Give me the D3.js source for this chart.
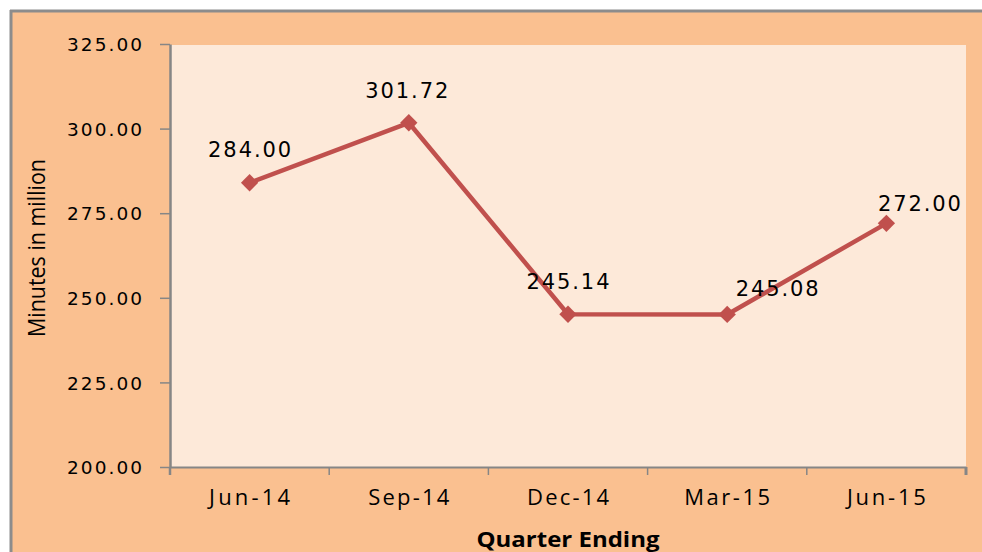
<!DOCTYPE html>
<html>
<head>
<meta charset="utf-8">
<script src="https://cdn.jsdelivr.net/npm/d3@7"></script>
<style>
  html, body { margin: 0; padding: 0; background: #ffffff; }
  svg { display: block; }
</style>
</head>
<body>
<svg id="chart" width="982" height="552"></svg>
<script>
// ---- data ----
const categories = ["Jun-14", "Sep-14", "Dec-14", "Mar-15", "Jun-15"];
const values = [284.00, 301.72, 245.14, 245.08, 272.00];
const valueLabels = ["284.00", "301.72", "245.14", "245.08", "272.00"];
const yTicks = [200, 225, 250, 275, 300, 325];
const yTitle = "Minutes in million";
const xTitle = "Quarter Ending";

// ---- layout / style ----
const W = 982, H = 552;
const plot = { left: 170, right: 966, top: 44, bottom: 467 };
// label offsets (dx, dy relative to point) to match reference placement
const labelOffsets = [[0, -26], [-2, -25], [0, -25], [50, -18], [33, -12]];
const xLabelWidths = [81, 81, 82, 86, 79];

const svg = d3.select("#chart");

// outer chart area
svg.append("rect").attr("x", 10).attr("y", 10).attr("width", W).attr("height", H)
  .attr("fill", "#FAC090");
svg.append("line").attr("x1", 10).attr("x2", W).attr("y1", 11).attr("y2", 11)
  .attr("stroke", "#8c8c8c").attr("stroke-width", 3);
svg.append("line").attr("x1", 11).attr("x2", 11).attr("y1", 10).attr("y2", H)
  .attr("stroke", "#8c8c8c").attr("stroke-width", 3);

// plot area
svg.append("rect").attr("x", plot.left).attr("y", plot.top + 1)
  .attr("width", plot.right - plot.left).attr("height", plot.bottom - plot.top - 1)
  .attr("fill", "#FDE9D9");

const x = d3.scaleBand().domain(categories).range([plot.left, plot.right]).paddingInner(0).paddingOuter(0);
const y = d3.scaleLinear().domain([200, 325]).range([plot.bottom, plot.top]);
const cx = d => x(d) + x.bandwidth() / 2;

// y axis
const yAxis = svg.append("g").attr("transform", `translate(${plot.left},0)`)
  .call(d3.axisLeft(y).tickValues(yTicks).tickFormat(d3.format(".2f")).tickSize(10).tickSizeOuter(0).tickPadding(18));
yAxis.select(".domain").attr("stroke", "#868686").attr("stroke-width", 2.5);
yAxis.selectAll(".tick line").attr("stroke", "#868686").attr("stroke-width", 1.5);
yAxis.selectAll(".tick text")
  .attr("fill", "#000").attr("font-family", "DejaVu Sans, Verdana, sans-serif")
  .attr("font-size", 18.5).attr("dy", "0.36em")
  .attr("textLength", 75).attr("lengthAdjust", "spacing");

// x axis
const xAxis = svg.append("g").attr("transform", `translate(0,${plot.bottom})`)
  .call(d3.axisBottom(x).tickSize(0).tickPadding(34));
xAxis.select(".domain").attr("stroke", "#868686").attr("stroke-width", 2);
xAxis.selectAll(".tick text")
  .attr("fill", "#000").attr("font-family", "'Open Sans', sans-serif")
  .attr("font-size", 22).attr("dy", "0.2em")
  .attr("textLength", (d, i) => xLabelWidths[i]).attr("lengthAdjust", "spacing");
// category boundary tick marks
const boundaries = categories.map(c => x(c)).concat([x(categories[categories.length - 1]) + x.bandwidth()]);
svg.append("g").selectAll("line").data(boundaries).join("line")
  .attr("x1", d => d).attr("x2", d => d)
  .attr("y1", plot.bottom).attr("y2", plot.bottom + 8)
  .attr("stroke", "#868686").attr("stroke-width", (d, i) => i === 0 ? 2.5 : (i === boundaries.length - 1 ? 3 : 1.5));

// axis titles
svg.append("text")
  .attr("transform", `translate(45,${(159 + 337) / 2}) rotate(-90)`)
  .attr("text-anchor", "middle")
  .attr("font-family", "'Open Sans', sans-serif")
  .attr("font-size", 23)
  .attr("textLength", 178).attr("lengthAdjust", "spacingAndGlyphs")
  .text(yTitle);

svg.append("text")
  .attr("x", (plot.left + plot.right) / 2).attr("y", 547)
  .attr("text-anchor", "middle")
  .attr("font-family", "'Open Sans', sans-serif")
  .attr("font-weight", "bold")
  .attr("font-size", 22)
  .attr("textLength", 183).attr("lengthAdjust", "spacingAndGlyphs")
  .text(xTitle);

// line
const pts = categories.map((c, i) => ({ c, v: values[i], label: valueLabels[i], off: labelOffsets[i] }));
const line = d3.line().x(d => cx(d.c)).y(d => y(d.v));
svg.append("path").datum(pts).attr("d", line)
  .attr("fill", "none").attr("stroke", "#C0504D").attr("stroke-width", 4.5)
  .attr("stroke-linejoin", "round");

// markers (diamonds)
const marker = d3.symbol().type(d3.symbolSquare).size(150);
svg.append("g").selectAll("path").data(pts).join("path")
  .attr("d", marker)
  .attr("transform", d => `translate(${cx(d.c)},${y(d.v)}) rotate(45)`)
  .attr("fill", "#C0504D");

// data labels
svg.append("g").selectAll("text").data(pts).join("text")
  .attr("x", d => cx(d.c) + d.off[0])
  .attr("y", d => y(d.v) + d.off[1])
  .attr("text-anchor", "middle")
  .attr("font-family", "DejaVu Sans, Verdana, sans-serif")
  .attr("font-size", 21)
  .attr("fill", "#000")
  .attr("textLength", 83).attr("lengthAdjust", "spacing")
  .text(d => d.label);
</script>
</body>
</html>
